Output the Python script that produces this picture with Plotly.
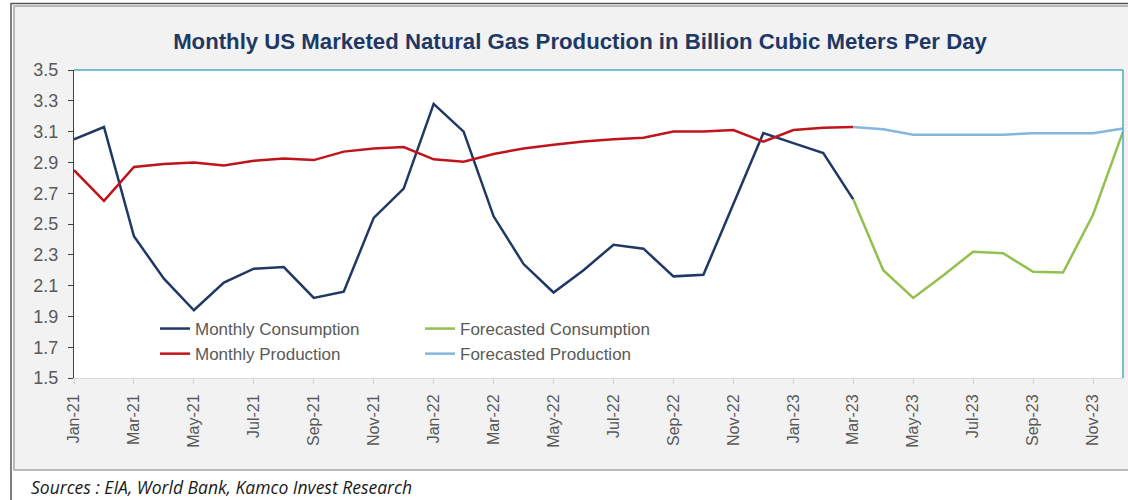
import plotly.graph_objects as go

months = ["Jan-21", "Feb-21", "Mar-21", "Apr-21", "May-21", "Jun-21", "Jul-21", "Aug-21", "Sep-21", "Oct-21", "Nov-21", "Dec-21",
          "Jan-22", "Feb-22", "Mar-22", "Apr-22", "May-22", "Jun-22", "Jul-22", "Aug-22", "Sep-22", "Oct-22", "Nov-22", "Dec-22",
          "Jan-23", "Feb-23", "Mar-23", "Apr-23", "May-23", "Jun-23", "Jul-23", "Aug-23", "Sep-23", "Oct-23", "Nov-23", "Dec-23"]

actual_months = months[:27]      # Jan-21 .. Mar-23
forecast_months = months[26:]    # Mar-23 .. Dec-23

monthly_consumption = [3.05, 3.13, 2.42, 2.145, 1.94, 2.12, 2.21, 2.22, 2.02, 2.06, 2.54, 2.73,
                       3.28, 3.10, 2.55, 2.24, 2.055, 2.20, 2.365, 2.34, 2.16, 2.17, 2.63, 3.09,
                       3.025, 2.96, 2.66]
monthly_production = [2.85, 2.65, 2.87, 2.89, 2.90, 2.88, 2.91, 2.925, 2.915, 2.97, 2.99, 3.00,
                      2.92, 2.905, 2.955, 2.99, 3.015, 3.035, 3.05, 3.06, 3.10, 3.10, 3.11, 3.035,
                      3.11, 3.125, 3.13]
forecast_consumption = [2.66, 2.20, 2.02, 2.165, 2.32, 2.31, 2.19, 2.185, 2.56, 3.10]
forecast_production = [3.13, 3.115, 3.08, 3.08, 3.08, 3.08, 3.09, 3.09, 3.09, 3.12]

tick_labels = months[::2]
y_ticks = [1.5, 1.7, 1.9, 2.1, 2.3, 2.5, 2.7, 2.9, 3.1, 3.3, 3.5]

W, H = 1128, 500
L, R, T, B = 74, 5, 70, 122
PW, PH = W - L - R, H - T - B


def px(x):
    return (x - L) / PW


def py(y):
    return (H - B - y) / PH


fig = go.Figure()
fig.add_trace(go.Scatter(x=actual_months, y=monthly_consumption, mode="lines", name="Monthly Consumption",
                         line=dict(color="#1f3864", width=2.5), legend="legend"))
fig.add_trace(go.Scatter(x=actual_months, y=monthly_production, mode="lines", name="Monthly Production",
                         line=dict(color="#c0141c", width=2.5), legend="legend"))
fig.add_trace(go.Scatter(x=forecast_months, y=forecast_consumption, mode="lines", name="Forecasted Consumption",
                         line=dict(color="#92c04f", width=2.5), legend="legend2"))
fig.add_trace(go.Scatter(x=forecast_months, y=forecast_production, mode="lines", name="Forecasted Production",
                         line=dict(color="#86b6dc", width=2.5), legend="legend2"))

shapes = [
    # light grey chart panel
    dict(type="rect", xref="paper", yref="paper", x0=px(14), x1=px(1130), y0=py(470), y1=py(6),
         fillcolor="#f2f2f2", line=dict(color="#a6a6a6", width=1.5), layer="below"),
    # white plot area
    dict(type="rect", xref="paper", yref="paper", x0=0, x1=1, y0=0, y1=1,
         fillcolor="white", line=dict(width=0), layer="below"),
    # outer frame lines
    dict(type="line", xref="paper", yref="paper", x0=px(11), x1=px(11), y0=py(3), y1=py(502),
         line=dict(color="#555555", width=1.5)),
    dict(type="line", xref="paper", yref="paper", x0=px(11), x1=px(1130), y0=py(3.5), y1=py(3.5),
         line=dict(color="#555555", width=1.5)),
    # blue plot border (top & right)
    dict(type="line", xref="paper", yref="paper", x0=0, x1=1, y0=1, y1=1,
         line=dict(color="#4bacc6", width=1.5)),
    dict(type="line", xref="paper", yref="paper", x0=1, x1=1, y0=0, y1=1,
         line=dict(color="#4bacc6", width=1.5)),
]

fig.update_layout(
    width=W, height=H,
    margin=dict(l=L, r=R, t=T, b=B),
    paper_bgcolor="white",
    plot_bgcolor="white",
    font=dict(family="Liberation Sans, Arial, sans-serif", color="#595959"),
    title=dict(text="<b>Monthly US Marketed Natural Gas Production in Billion Cubic Meters Per Day</b>",
               x=580 / W, y=1 - 41 / H, xref="container", yref="container",
               xanchor="center", yanchor="middle",
               font=dict(size=22.2, color="#1f3864", family="Liberation Sans, Arial, sans-serif")),
    xaxis=dict(type="category", categoryorder="array", categoryarray=months,
               range=[0, len(months) - 1], tickmode="array", tickvals=tick_labels, ticktext=tick_labels,
               tickangle=-90, ticks="outside", ticklen=5, tickcolor="#d0d0d0",
               showline=True, linecolor="#d9d9d9", linewidth=1, showgrid=False, zeroline=False,
               tickfont=dict(size=16, color="#595959"), ticklabelstandoff=4),
    yaxis=dict(range=[1.5, 3.5], tickmode="array", tickvals=y_ticks, tickformat=".1f",
               ticks="outside", ticklen=5, tickcolor="#404040",
               showline=True, linecolor="#404040", linewidth=1.2, showgrid=False, zeroline=False,
               tickfont=dict(size=18, color="#595959"), ticklabelstandoff=6),
    legend=dict(x=px(155), y=py(311), xanchor="left", yanchor="top", bgcolor="rgba(0,0,0,0)",
                font=dict(size=17, color="#595959"), tracegroupgap=0),
    legend2=dict(x=px(420), y=py(311), xanchor="left", yanchor="top", bgcolor="rgba(0,0,0,0)",
                 font=dict(size=17, color="#595959"), tracegroupgap=0),
    shapes=shapes,
    annotations=[dict(text="<i>Sources : EIA, World Bank, Kamco Invest Research</i>",
                      xref="paper", yref="paper", x=px(29), y=py(487), xanchor="left", yanchor="middle",
                      showarrow=False, font=dict(size=17.5, color="#1a1a1a", family="Open Sans, sans-serif"))],
)

fig.write_html("out.html", config={"displayModeBar": False},
               post_script="document.body.style.margin='0';document.body.style.overflow='hidden';")
